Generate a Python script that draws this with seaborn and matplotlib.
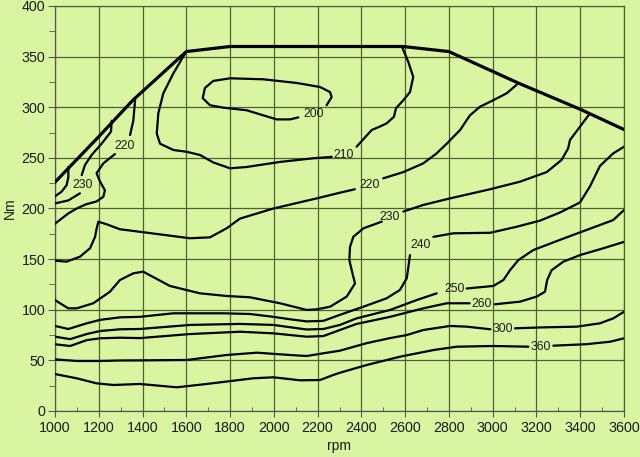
import pandas as pd
import matplotlib
matplotlib.use('Agg')
import matplotlib.pyplot as plt
import seaborn as sns
from matplotlib.ticker import MultipleLocator

# ---------------- data (rpm, Nm) ----------------
max_torque_rpm = [1000, 1200, 1356, 1600, 1800, 2590, 2800, 3116, 3400, 3600]
max_torque_nm = [226, 271, 307, 355, 360, 360, 355, 324, 298, 278]

# 200 loop
c200_rpm = [2241, 2264, 2257, 2211, 2104, 1952, 1800, 1723, 1685, 1675, 1708,
            1769, 1876, 1952, 2013, 2074, 2112]
c200_nm = [302, 310, 315, 320, 324, 327.6, 328.6, 326, 319, 309, 302,
           299.6, 297, 292, 288, 288, 290]

# 210 (two pieces either side of its label)
c210a_rpm = [1594, 1541, 1495, 1472, 1465, 1480, 1541, 1602, 1663, 1723, 1800,
             1876, 2028, 2180, 2265]
c210a_nm = [353, 333.5, 313.8, 294, 274, 264, 257.8, 256, 252.8, 245.5, 239.7,
            241, 246, 249.6, 251]
c210b_rpm = [2378, 2447, 2485, 2515, 2549, 2558, 2592, 2622, 2637, 2614, 2585]
c210b_nm = [261, 277.5, 281, 284, 290.7, 299, 307, 315, 330, 345, 360]

# 220 in the upper left corner
c220l_a_rpm = [1366, 1358, 1343]
c220l_a_nm = [307, 287, 272.6]
c220l_b_rpm = [1274, 1221, 1190, 1206, 1228, 1221, 1190, 1140, 1099, 1060, 1030, 1000]
c220l_b_nm = [253.8, 244.6, 234.8, 226.5, 218, 211.6, 207, 204, 200, 195, 190, 185]

# 230 in the upper left corner
c230l_a_rpm = [1259, 1256, 1213, 1168, 1137, 1122]
c230l_a_nm = [286.7, 276, 264, 253, 243, 233]
c230l_b_rpm = [1114, 1061, 1000]
c230l_b_nm = [215, 208, 205]

# outermost unlabelled line near 1000 rpm
c240l_rpm = [1061, 1061, 1053, 1030, 1000]
c240l_nm = [241, 231, 223, 216.6, 212]

# long 220 line
c220_a_rpm = [1000, 1053, 1114, 1160, 1183, 1190, 1198, 1236, 1297, 1388, 1617,
              1708, 1784, 1845, 1998, 2196, 2302, 2370]
c220_a_nm = [148.5, 147.5, 152.4, 160.7, 172, 180, 187, 184.4, 179.5, 177, 170.6,
             171.5, 180.4, 190, 200, 210, 215.6, 219]
c220_b_rpm = [2500, 2592, 2683, 2744, 2790, 2851, 2896, 2942, 3003, 3064, 3117]
c220_b_nm = [229.8, 236, 244.6, 254.5, 264, 277.5, 292, 300.5, 307, 313.8, 323.6]

# 230
c230_a_rpm = [1000, 1023, 1061, 1099, 1175, 1251, 1297, 1358, 1403, 1525, 1663,
              1784, 1891, 2028, 2150, 2196, 2257, 2333, 2371, 2363, 2345, 2348,
              2363, 2409, 2493]
c230_a_nm = [109.6, 106.4, 101.4, 101.4, 106.4, 117.8, 129.4, 136, 137.6, 123.5, 116.2,
             113.6, 112.3, 106.4, 99.8, 100.4, 103, 113, 126, 132.6, 149, 162,
             172, 180.4, 187]
c230_b_rpm = [2592, 2683, 2805, 2988, 3125, 3247, 3315, 3345, 3353, 3399, 3441]
c230_b_nm = [197, 203.5, 210, 219, 226.5, 236, 248, 259.5, 267.6, 280.8, 293]

# 240
c240_a_rpm = [1000, 1061, 1145, 1206, 1297, 1388, 1541, 1769, 1891, 1998, 2074,
              2150, 2226, 2302, 2409, 2515, 2576, 2607, 2614, 2622]
c240_a_nm = [84, 81, 86.6, 90, 92.5, 93, 96.5, 96.5, 95.8, 93, 90.6,
             88.5, 89, 95, 103, 111.3, 119.5, 131, 141, 154]
c240_b_rpm = [2729, 2820, 2988, 3110, 3216, 3307, 3399, 3445, 3490, 3551, 3600]
c240_b_nm = [172, 175.5, 176, 182, 188, 196, 206, 222, 242, 254.5, 261]

# 250
c250_a_rpm = [1000, 1069, 1145, 1206, 1297, 1388, 1617, 1845, 1998, 2150, 2226,
              2302, 2378, 2531, 2653, 2744]
c250_a_nm = [73.4, 71, 76, 79, 80.7, 81, 85, 86, 85, 80.5, 81,
             85, 91.5, 99.8, 109.6, 116.2]
c250_b_rpm = [2881, 3003, 3049, 3079, 3117, 3186, 3307, 3429, 3551, 3600]
c250_b_nm = [121, 123.5, 129.4, 139, 149, 159, 169, 178.8, 188.6, 198.5]

# 260
c260_a_rpm = [1000, 1069, 1145, 1206, 1297, 1388, 1617, 1845, 1998, 2150, 2226,
              2302, 2378, 2531, 2683, 2790, 2895]
c260_a_nm = [65.9, 64.2, 70, 71.8, 72.4, 72, 76, 78.3, 76.7, 73.4, 74,
             80, 86, 93, 101.4, 106.4, 106.4]
c260_b_rpm = [3010, 3125, 3201, 3239, 3249, 3269, 3323, 3399, 3505, 3600]
c260_b_nm = [105.4, 108, 113, 117.8, 129.4, 139, 147.5, 154, 160.7, 167]

# 300
c300_a_rpm = [1000, 1099, 1206, 1297, 1388, 1602, 1784, 1922, 2074, 2150, 2226,
              2302, 2424, 2531, 2607, 2683, 2805, 2881, 2990]
c300_a_nm = [51, 49.4, 49.4, 49.9, 50, 50.4, 55.3, 57.6, 55.3, 54.3, 57,
             59.6, 67, 72, 75, 80, 84, 83.3, 80.7]
c300_b_rpm = [3102, 3231, 3384, 3490, 3551, 3600]
c300_b_nm = [81.7, 82.6, 83.3, 86.6, 91.5, 98]

# 360
c360_a_rpm = [1000, 1099, 1190, 1266, 1388, 1556, 1693, 1906, 1998, 2120, 2211,
              2272, 2302, 2424, 2576, 2729, 2835, 3003, 3163]
c360_a_nm = [36.5, 32.3, 27.3, 25.7, 26.7, 23.4, 26.7, 32.3, 33.3, 30.3, 30.6,
             35.6, 37.8, 45.4, 53.6, 60.2, 63.5, 64.2, 63.5]
c360_b_rpm = [3277, 3429, 3536, 3600]
c360_b_nm = [64.5, 66, 68.4, 71.8]

# contour labels
label_text = ['200', '210', '220', '230', '220', '230', '240', '250', '260', '300', '360']
label_rpm = [2180, 2321, 1320, 1126, 2439, 2531, 2671, 2828, 2948, 3046, 3219]
label_nm = [293, 253, 262, 223, 223, 192, 164, 120, 105.5, 80.5, 63.5]

segments = {
    'c200': (c200_rpm, c200_nm),
    'c210a': (c210a_rpm, c210a_nm), 'c210b': (c210b_rpm, c210b_nm),
    'c220la': (c220l_a_rpm, c220l_a_nm), 'c220lb': (c220l_b_rpm, c220l_b_nm),
    'c230la': (c230l_a_rpm, c230l_a_nm), 'c230lb': (c230l_b_rpm, c230l_b_nm),
    'c240l': (c240l_rpm, c240l_nm),
    'c220a': (c220_a_rpm, c220_a_nm), 'c220b': (c220_b_rpm, c220_b_nm),
    'c230a': (c230_a_rpm, c230_a_nm), 'c230b': (c230_b_rpm, c230_b_nm),
    'c240a': (c240_a_rpm, c240_a_nm), 'c240b': (c240_b_rpm, c240_b_nm),
    'c250a': (c250_a_rpm, c250_a_nm), 'c250b': (c250_b_rpm, c250_b_nm),
    'c260a': (c260_a_rpm, c260_a_nm), 'c260b': (c260_b_rpm, c260_b_nm),
    'c300a': (c300_a_rpm, c300_a_nm), 'c300b': (c300_b_rpm, c300_b_nm),
    'c360a': (c360_a_rpm, c360_a_nm), 'c360b': (c360_b_rpm, c360_b_nm),
}

contours = pd.concat([pd.DataFrame({'rpm': r, 'Nm': t, 'seg': name})
                      for name, (r, t) in segments.items()], ignore_index=True)
torque = pd.DataFrame({'rpm': max_torque_rpm, 'Nm': max_torque_nm})

# ---------------- plot ----------------
bg = '#d9f5a1'
grid_col = '#4f5f32'
text_col = '#1a1a1a'
sns.set_style('ticks')
plt.rcParams['font.family'] = ['Liberation Sans', 'DejaVu Sans']

fig = plt.figure(figsize=(6.4, 4.57), dpi=100, facecolor=bg)
ax = fig.add_axes([55 / 640, 46 / 457, 569 / 640, 405 / 457])
ax.set_facecolor(bg)

sns.lineplot(data=contours, x='rpm', y='Nm', units='seg', estimator=None, sort=False,
             color='black', lw=1.6, ax=ax, zorder=3,
             solid_joinstyle='round', solid_capstyle='round')
sns.lineplot(data=torque, x='rpm', y='Nm', estimator=None, sort=False,
             color='black', lw=2.3, ax=ax, zorder=4,
             solid_joinstyle='round', solid_capstyle='round')

for txt, xr, yn in zip(label_text, label_rpm, label_nm):
    ax.text(xr, yn, txt, ha='center', va='center', fontsize=8.8, color=text_col, zorder=5)

ax.set_xlim(1000, 3600)
ax.set_ylim(0, 400)
ax.xaxis.set_major_locator(MultipleLocator(200))
ax.xaxis.set_minor_locator(MultipleLocator(100))
ax.yaxis.set_major_locator(MultipleLocator(50))
ax.yaxis.set_minor_locator(MultipleLocator(25))
ax.grid(True, which='major', color=grid_col, lw=0.9)
ax.set_axisbelow(True)

for side in ['left', 'bottom', 'top', 'right']:
    ax.spines[side].set_color(grid_col)
    ax.spines[side].set_linewidth(0.9)
ax.spines['left'].set_color('#555555')
ax.spines['bottom'].set_color('#555555')

ax.tick_params(axis='x', which='major', length=4, direction='out', color='#555555',
               labelsize=10.3, pad=3, labelcolor=text_col)
ax.tick_params(axis='x', which='minor', length=3, direction='in', color='#555555')
ax.tick_params(axis='y', which='major', length=5, direction='out', color='#555555',
               labelsize=10.3, pad=2, labelcolor=text_col)
ax.tick_params(axis='y', which='minor', length=4, direction='out', color='#555555')

ax.set_xlabel('rpm', fontsize=10, labelpad=3, color=text_col)
ax.set_ylabel('Nm', fontsize=10, labelpad=3, color=text_col)

fig.savefig('out.png', dpi=100, facecolor=bg)
